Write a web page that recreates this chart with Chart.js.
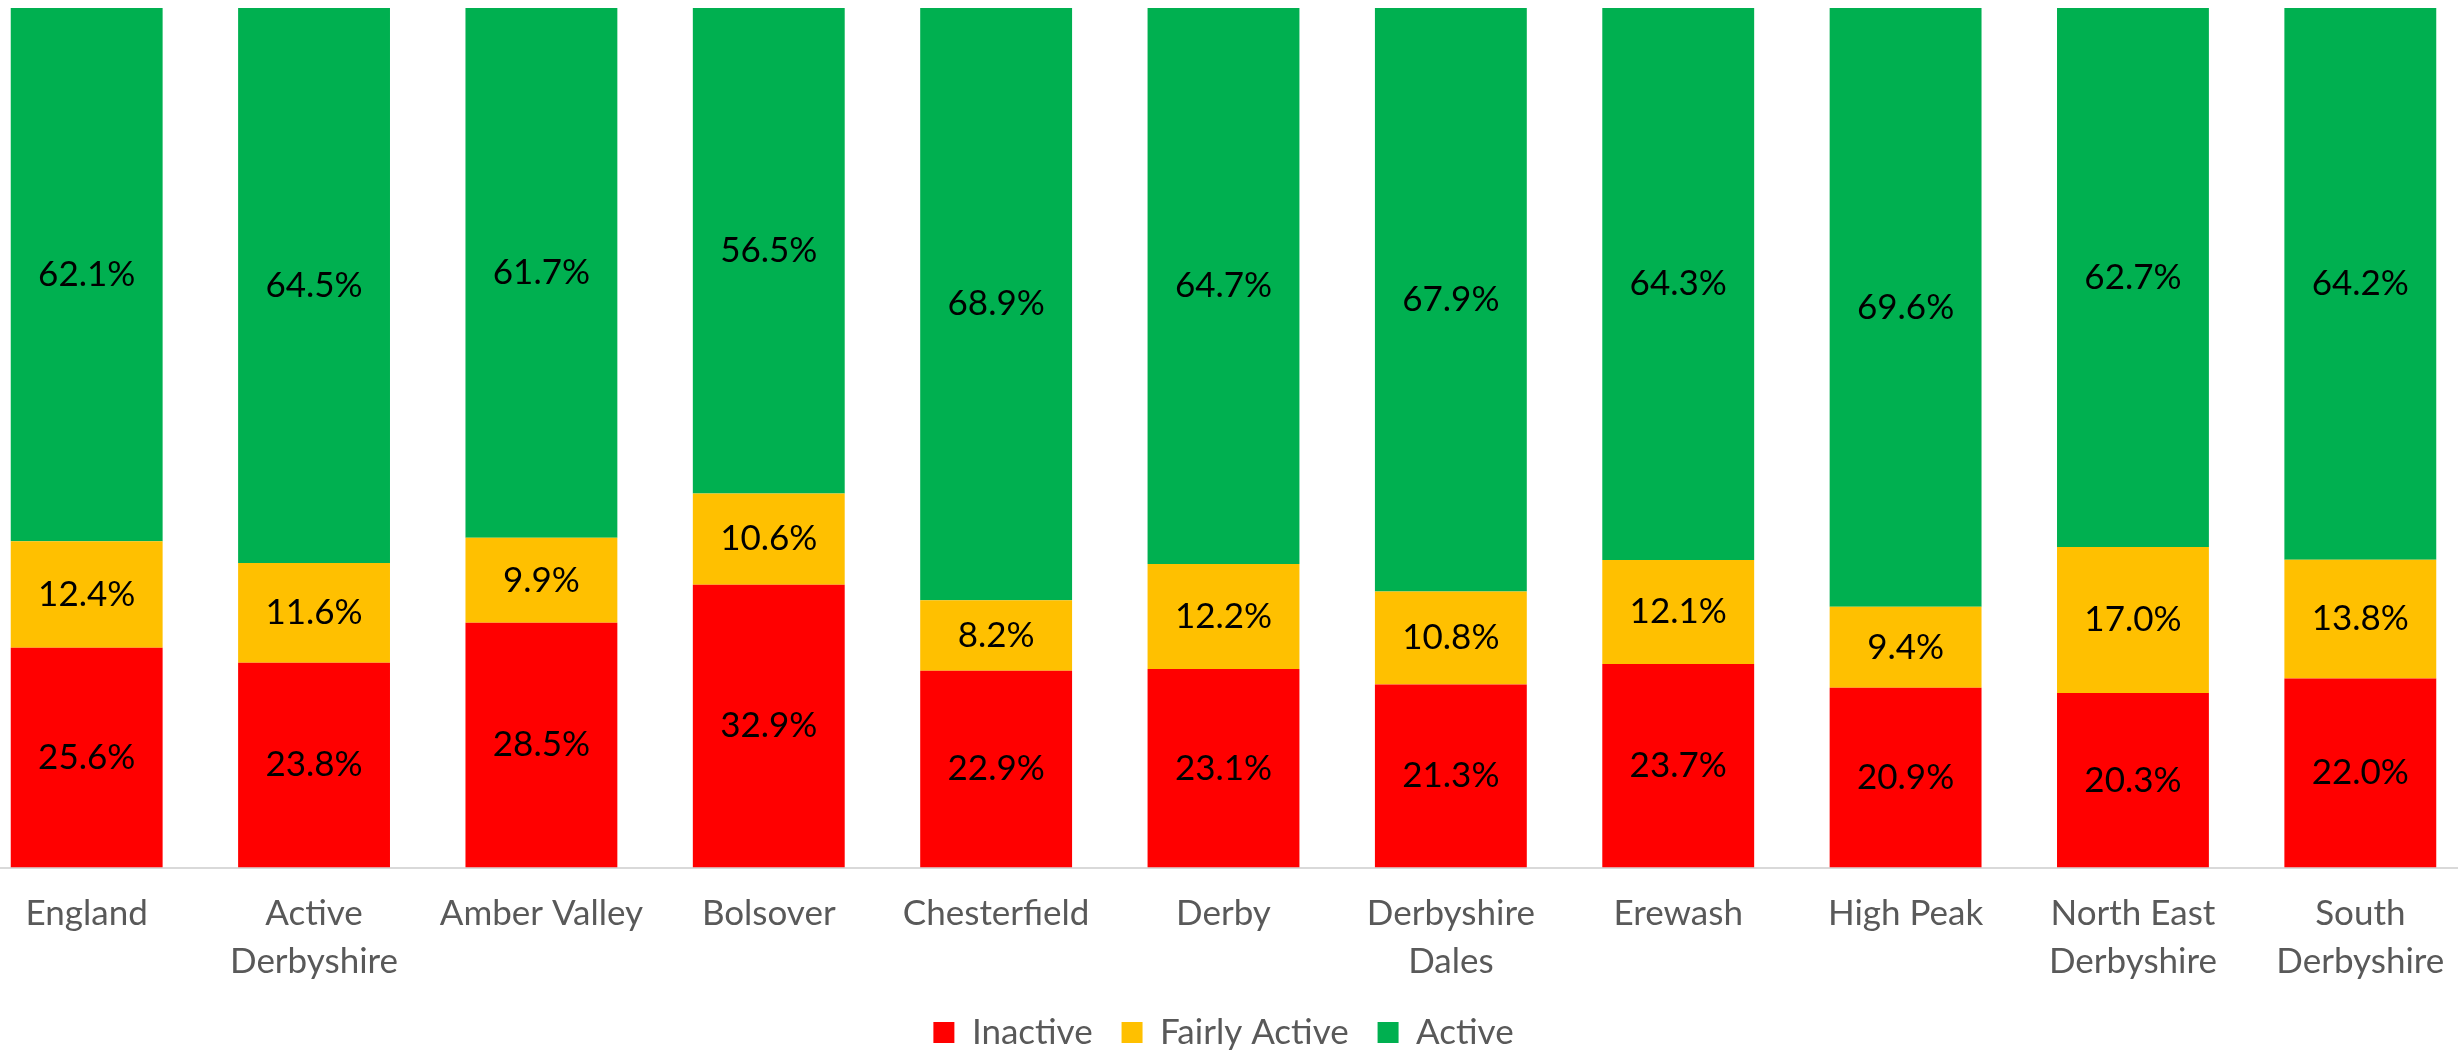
<!DOCTYPE html>
<html>
<head>
<meta charset="utf-8">
<script src="https://cdn.jsdelivr.net/npm/chart.js@4.4.1/dist/chart.umd.min.js"></script>
<style>
html, body { margin: 0; padding: 0; background: #fff; overflow: hidden; }
#wrap { position: absolute; left: -27px; top: 0; width: 2501px; height: 1060px; }
</style>
</head>
<body>
<div id="wrap"><canvas id="myChart"></canvas></div>
<script>
// categories
var areas = ["England", ["Active", "Derbyshire"], "Amber Valley", "Bolsover", "Chesterfield", "Derby",
  ["Derbyshire", "Dales"], "Erewash", "High Peak", ["North East", "Derbyshire"], ["South", "Derbyshire"]];

// percentages per activity level
var inactive     = [25.6, 23.8, 28.5, 32.9, 22.9, 23.1, 21.3, 23.7, 20.9, 20.3, 22.0];
var fairlyActive = [12.4, 11.6,  9.9, 10.6,  8.2, 12.2, 10.8, 12.1,  9.4, 17.0, 13.8];
var active       = [62.1, 64.5, 61.7, 56.5, 68.9, 64.7, 67.9, 64.3, 69.6, 62.7, 64.2];

var seriesNames = ["Inactive", "Fairly Active", "Active"];
var seriesColors = ["#ff0000", "#ffc000", "#00b050"];
var seriesValues = [inactive, fairlyActive, active];

var fontFamily = "Lato, 'Open Sans', sans-serif";

// 100% stacked: each column scaled to its own total
var totals = areas.map(function(a, i) {
  return inactive[i] + fairlyActive[i] + active[i];
});

var datasets = seriesValues.map(function(vals, s) {
  return {
    label: seriesNames[s],
    backgroundColor: seriesColors[s],
    data: vals.map(function(v, i) { return v / totals[i] * 100; }),
    raw: vals,
    borderWidth: 0,
    categoryPercentage: 1,
    barPercentage: 0.668
  };
});

// draw value labels in the middle of each segment
var barLabels = {
  id: 'barLabels',
  afterDatasetsDraw: function(chart) {
    var ctx = chart.ctx;
    ctx.save();
    ctx.font = "35px " + fontFamily;
    ctx.fillStyle = "#000";
    ctx.textAlign = "center";
    ctx.textBaseline = "middle";
    chart.data.datasets.forEach(function(ds, i) {
      chart.getDatasetMeta(i).data.forEach(function(bar, j) {
        var c = bar.getCenterPoint();
        ctx.fillText(ds.raw[j].toFixed(1) + "%", c.x, c.y);
      });
    });
    ctx.restore();
  }
};

new Chart("myChart", {
  type: "bar",
  data: { labels: areas, datasets: datasets },
  plugins: [barLabels],
  options: {
    responsive: true,
    maintainAspectRatio: false,
    animation: false,
    layout: { padding: { top: 8, left: 0, right: 0, bottom: 0 } },
    plugins: {
      tooltip: { enabled: false },
      legend: {
        position: "bottom",
        labels: {
          color: "#595959",
          font: { family: fontFamily, size: 35 },
          boxWidth: 21,
          boxHeight: 21,
          padding: 7,
          generateLabels: function(chart) {
            var items = Chart.defaults.plugins.legend.labels.generateLabels(chart);
            items.forEach(function(it, k) {
              // wider gap between legend entries
              if (k < items.length - 1) it.text = it.text + "\u2002\u2009";
            });
            return items;
          }
        }
      }
    },
    scales: {
      x: {
        stacked: true,
        grid: { display: false, drawTicks: false },
        border: { display: true, color: "#d9d9d9", width: 2 },
        ticks: {
          color: "#595959",
          font: { family: fontFamily, size: 35, lineHeight: 1.35 },
          padding: 23,
          maxRotation: 0,
          autoSkip: false
        }
      },
      y: {
        stacked: true,
        display: false,
        min: 0,
        max: 100
      }
    }
  }
});
</script>
</body>
</html>
